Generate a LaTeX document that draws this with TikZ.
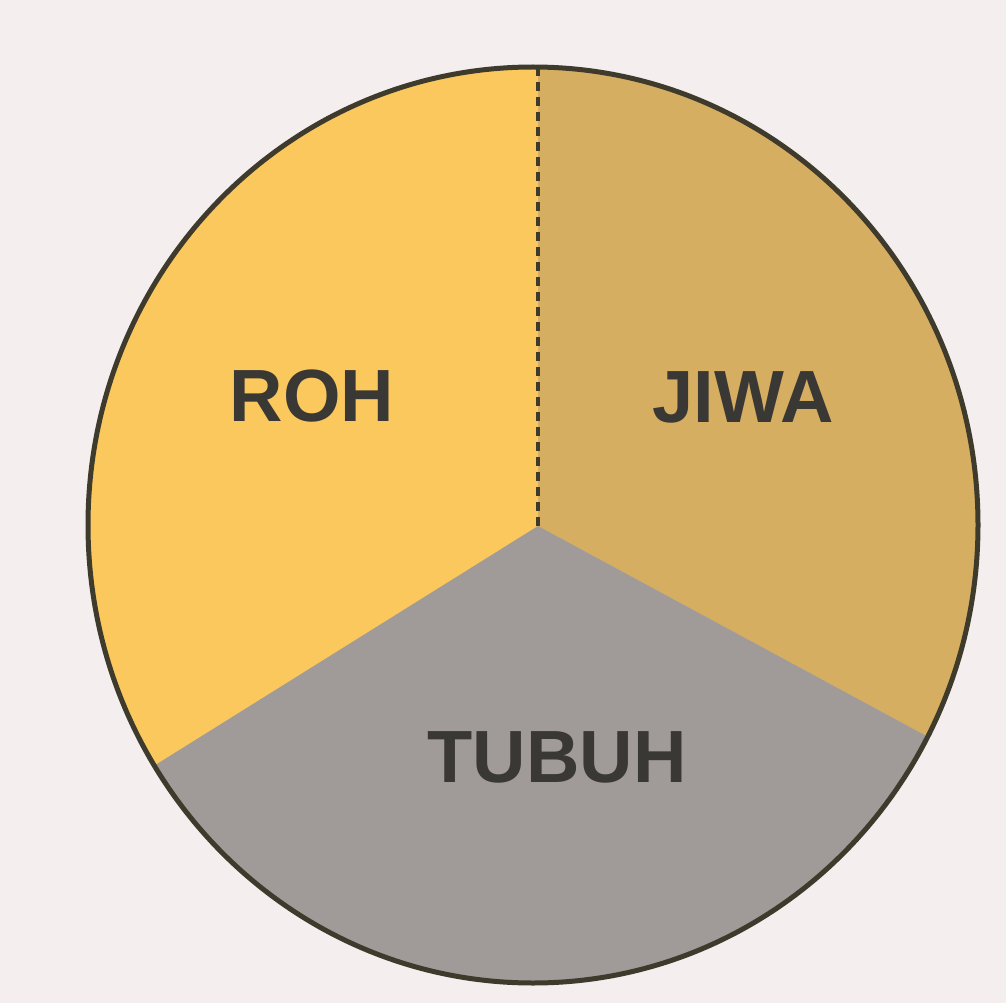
\documentclass[tikz,border=0pt]{standalone}
\usepackage{fontspec}
\setmainfont{Liberation Sans}
\begin{document}
\begin{tikzpicture}[x=1pt,y=-1pt,
  lbl/.style={font=\fontsize{74}{80}\selectfont\bfseries, text=labelgray, inner sep=0pt},
  rim/.style={draw=rimcol, line width=5pt}]
\definecolor{bgcol}{HTML}{F4EEEE}
\definecolor{rohcol}{HTML}{FBC85E}
\definecolor{jiwacol}{HTML}{D6AE62}
\definecolor{tubuhcol}{HTML}{A09A98}
\definecolor{rimcol}{HTML}{3E3A2C}
\definecolor{labelgray}{HTML}{3A3834}
\fill[bgcol] (0,0) rectangle (1006,1003);
\useasboundingbox (0,0) rectangle (1006,1003);
\coordinate (c) at (538,526);
\coordinate (top) at (538,67);
\begin{scope}
  \clip (533,525) ellipse [x radius=445, y radius=458];
  \fill[rohcol] (0,0) rectangle (1006,1003);
  \fill[jiwacol] (c) -- (538,0) -- (1006,0) -- (1006,779) -- cycle;
  \fill[tubuhcol] (c) -- (1006,779) -- (1006,1003) -- (0,1003) -- (0,862) -- cycle;
\end{scope}
\draw[rimcol, line width=4pt, dash pattern=on 9pt off 6pt] (top) -- (c);
\draw[rim] (533,525) ellipse [x radius=445, y radius=458];
\node[lbl] (roh) at (312,396) {ROH};
\node[lbl] (jiwa) at (743,397) {JIWA};
\node[lbl] (tubuh) at (557,757) {TUBUH};
\end{tikzpicture}
\end{document}
